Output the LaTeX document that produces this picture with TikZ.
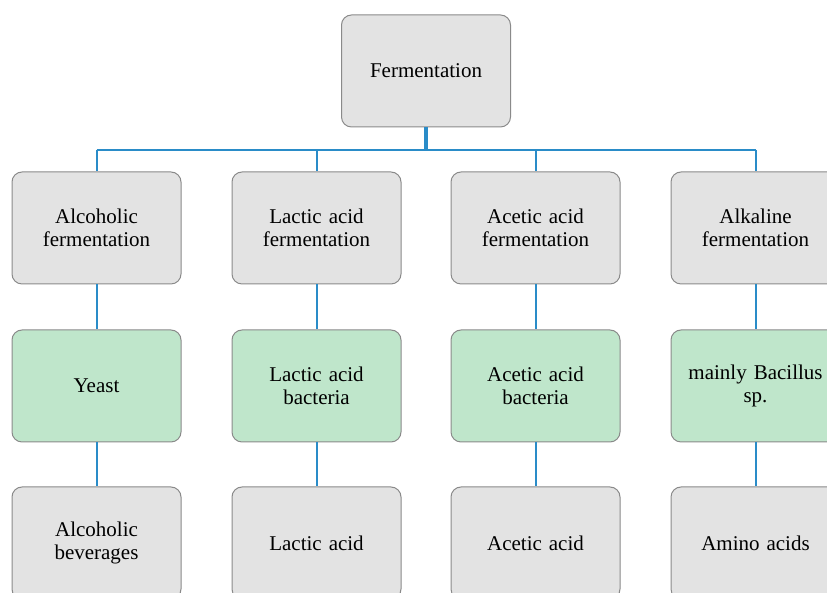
\documentclass[tikz,border=0pt]{standalone}
\usepackage{fontspec}
\setmainfont{Liberation Serif}
\definecolor{boxgray}{HTML}{E3E3E3}
\definecolor{boxgreen}{HTML}{BFE6CB}
\definecolor{edgegray}{HTML}{8A8A8A}
\definecolor{linkblue}{HTML}{2A8CC8}
\begin{document}
\begin{tikzpicture}[x=1pt,y=1pt,
  box/.style={draw=edgegray,line width=1pt,rounded corners=10pt,minimum width=169pt,minimum height=112pt,align=center,inner sep=2pt,text width=165pt,font=\fontsize{21}{23.5}\selectfont},
  graybox/.style={box,fill=boxgray},
  greenbox/.style={box,fill=boxgreen},
  link/.style={draw=linkblue,line width=2pt}]
\useasboundingbox (0,0) rectangle (827,593);
\clip (0,0) rectangle (827,593);
% top
\node[graybox] (top) at (426,522) {Fermentation};
% row 2
\node[graybox] (a1) at (96.5,365) {Alcoholic\\fermentation};
\node[graybox] (b1) at (316.5,365) {Lactic acid\\fermentation};
\node[graybox] (c1) at (535.5,365) {Acetic acid\\fermentation};
\node[graybox] (d1) at (755.5,365) {Alkaline\\fermentation};
% row 3
\node[greenbox] (a2) at (96.5,207) {Yeast};
\node[greenbox] (b2) at (316.5,207) {Lactic acid\\bacteria};
\node[greenbox] (c2) at (535.5,207) {Acetic acid\\bacteria};
\node[greenbox] (d2) at (755.5,207) {mainly Bacillus\\sp.};
% row 4
\node[graybox] (a3) at (96.5,50) {Alcoholic\\beverages};
\node[graybox] (b3) at (316.5,50) {Lactic acid};
\node[graybox] (c3) at (535.5,50) {Acetic acid};
\node[graybox] (d3) at (755.5,50) {Amino acids};
% connectors
\coordinate (hub) at (426,443);
\draw[link,line width=3.5pt] (top.south) -- (hub);
\draw[link,line width=2.5pt] (a1.north |- hub) -- (d1.north |- hub);
\foreach \n in {a1,b1,c1,d1}{\draw[link] (\n.north |- hub) -- (\n.north);}
\foreach \u/\v in {a1/a2,b1/b2,c1/c2,d1/d2,a2/a3,b2/b3,c2/c3,d2/d3}{\draw[link] (\u.south) -- (\v.north);}
\end{tikzpicture}
\end{document}
